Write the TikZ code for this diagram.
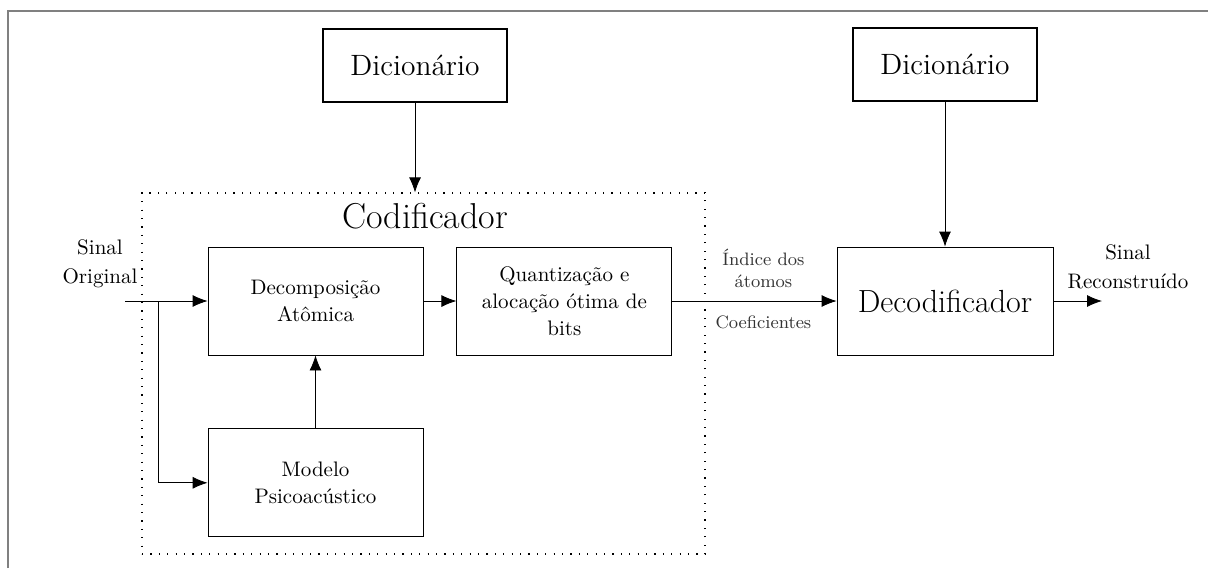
\documentclass[tikz,border=0pt]{standalone}
\usepackage{fontspec}
\usepackage{tikz}
\usetikzlibrary{arrows.meta, positioning}
\tikzstyle{bloco} = [rectangle, minimum width=107.5pt, minimum height=54pt, text centered, align=center, draw=black, font=\fontsize{10.5}{13.5}\selectfont]
\tikzstyle{dicio} = [rectangle, minimum width=92pt, minimum height=36.5pt, text centered, draw=black, line width=0.6pt, font=\fontsize{14.7}{17}\selectfont]
\tikzstyle{rotulo} = [align=center, font=\fontsize{10.5}{14.5}\selectfont]
\tikzstyle{rotpeq} = [align=center, font=\small, text=black!80]
\tikzstyle{arrow} = [->, >={Latex[length=7.5pt,width=6pt]}]

\begin{document}
\begin{tikzpicture}[x=0.5pt, y=-0.5pt]

			\useasboundingbox (0,0) rectangle (1208,568);
			\draw [black!50, line width=1pt] (8,568) -- (8,11) -- (1208,11);

			\node (cod_box) [draw, line width=0.6pt, dash pattern=on 0.6pt off 3.6pt, minimum width=281.5pt, minimum height=180.5pt] at (423.5,373.5) {};

			\node (cod_title) [font=\fontsize{18}{21}\selectfont] at (425,216) {Codificador};

			\node (decomp) [bloco] at (315.5,301) {Decomposição\\Atômica};

			\node (quant) [bloco, right=16.5pt of decomp] {Quantização e\\alocação ótima de\\bits};

			\node (modelo) [bloco, below=36.5pt of decomp] {Modelo\\Psicoacústico};

			\node (dic_cod) [dicio] at (415,65.5) {Dicionário};

			\node (decod) [bloco, minimum width=108pt, font=\fontsize{16}{19}\selectfont] at (945,301) {Decodificador};

			\node (dic_dec) [dicio, above=72.5pt of decod] {Dicionário};

			\coordinate (entrada) at (125,301);
			\coordinate (ramo) at (158,301);
			\coordinate (saida) at (1102,301);

			\node (sinal_orig) [rotulo] at (100,264) {Sinal\\Original};

			\node (sinal_rec) [rotulo] at (1128,267) {Sinal\\Reconstruído};


			\draw [arrow] (entrada) -- (decomp);
			\draw [arrow] (ramo) |- (modelo);
			\draw [arrow] (modelo) -- (decomp);
			\draw [arrow] (decomp) -- (quant);
			\draw [arrow] (quant) -- node[rotpeq, above=3pt, xshift=4.5pt] {Índice dos\\átomos} node[rotpeq, below=4pt, xshift=4.5pt] {Coeficientes} (decod);
			\draw [arrow] (dic_cod) -- (dic_cod |- cod_box.north);
			\draw [arrow] (dic_dec) -- (decod);
			\draw [arrow] (decod) -- (saida);

		\end{tikzpicture}
\end{document}
